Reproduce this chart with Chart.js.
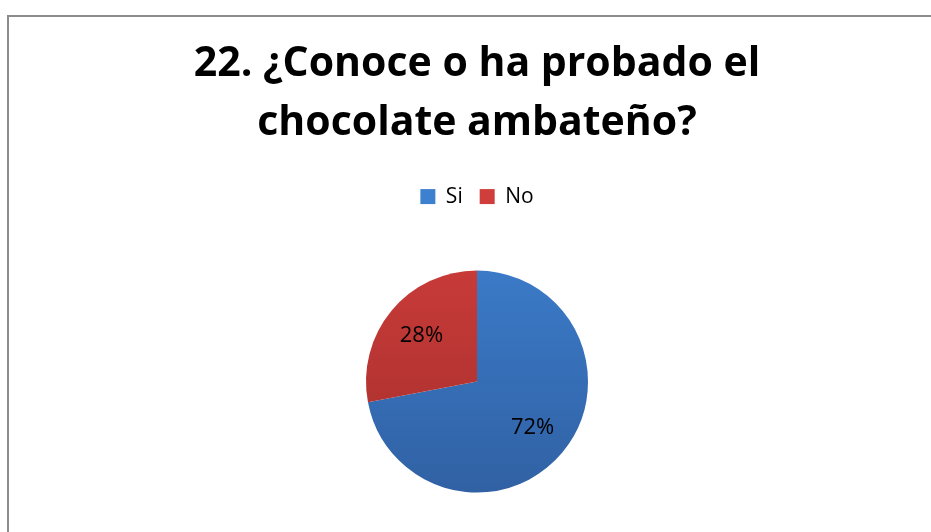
<!DOCTYPE html>
<html>
<head>
<meta charset="utf-8">
<script src="https://cdn.jsdelivr.net/npm/chart.js@4"></script>
<style>
  html, body { margin: 0; padding: 0; background: #fff; overflow: hidden; }
  #frame {
    position: absolute; left: 7px; top: 15px;
    width: 940px; height: 530px;
    border: 2px solid #8c8c8c;
    box-sizing: border-box;
    background: #fff;
    overflow: hidden;
  }
  #chart { display: block; }
</style>
</head>
<body>
<div id="frame"><canvas id="chart" width="936" height="529"></canvas></div>
<script>
const categories = ['Si', 'No'];
const percentages = [72, 28];
const titleLines = ['22. ¿Conoce o ha probado el', 'chocolate ambateño?'];

// top and bottom colours of each slice's vertical gradient
const sliceTop = ['#3d80d0', '#cf3e3b'];
const sliceBottom = ['#2e5b9b', '#9d2b2a'];

function sliceFill(context){
  const chart = context.chart;
  const i = context.dataIndex;
  const area = chart.chartArea;
  if (!area) return sliceTop[i];
  const g = chart.ctx.createLinearGradient(0, area.top, 0, area.bottom);
  g.addColorStop(0, sliceTop[i]);
  g.addColorStop(1, sliceBottom[i]);
  return g;
}

// writes the percentage inside each slice
const sliceLabels = {
  id: 'sliceLabels',
  afterDatasetsDraw(chart){
    const ctx = chart.ctx;
    const meta = chart.getDatasetMeta(0);
    ctx.save();
    ctx.font = '22px "Open Sans", sans-serif';
    ctx.fillStyle = '#000';
    ctx.textAlign = 'center';
    ctx.textBaseline = 'middle';
    meta.data.forEach((arc, i) => {
      const mid = (arc.startAngle + arc.endAngle) / 2;
      const r = arc.outerRadius * 0.65;
      ctx.fillText(percentages[i] + '%', arc.x + Math.cos(mid) * r, arc.y + Math.sin(mid) * r);
    });
    ctx.restore();
  }
};

const chart = new Chart(document.getElementById('chart').getContext('2d'), {
  type: 'pie',
  data: {
    labels: categories,
    datasets: [{
      data: percentages,
      backgroundColor: sliceFill,
      borderWidth: 0
    }]
  },
  options: {
    responsive: false,
    animation: false,
    radius: 111,
    layout: { padding: 0 },
    plugins: {
      title: {
        display: true,
        text: titleLines,
        color: '#000',
        font: { family: '"Open Sans", sans-serif', size: 41, weight: 'bold', lineHeight: 1.44 },
        padding: { top: 18, bottom: 16 }
      },
      legend: {
        position: 'top',
        labels: {
          color: '#000',
          font: { family: '"Open Sans", sans-serif', size: 21 },
          boxWidth: 15,
          boxHeight: 15,
          padding: 17
        }
      },
      tooltip: { enabled: false }
    }
  },
  plugins: [sliceLabels]
});
</script>
</body>
</html>
